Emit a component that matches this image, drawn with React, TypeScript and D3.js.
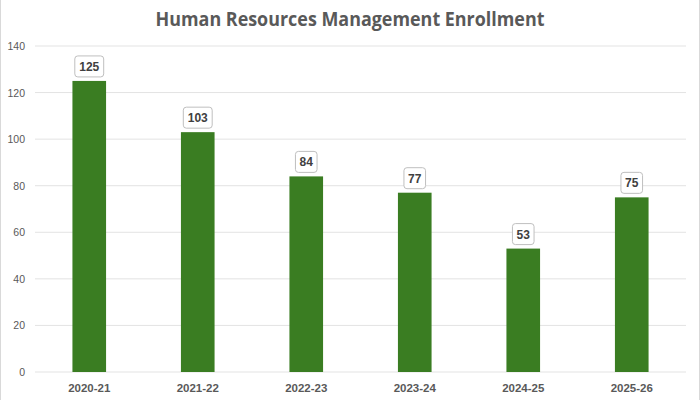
import React from "react";
import * as d3 from "d3";

const categories = ["2020-21", "2021-22", "2022-23", "2023-24", "2024-25", "2025-26"];
const enrollment = [125, 103, 84, 77, 53, 75];
const yTicks = [0, 20, 40, 60, 80, 100, 120, 140];
const title = "Human Resources Management Enrollment";

export default function App() {
  const W = 700, H = 400;
  const left = 35, right = 686, top = 46, bottom = 372;
  const x = d3.scaleBand<string>().domain(categories).range([left, right]).paddingInner(0.69).paddingOuter(0.345);
  const y = d3.scaleLinear().domain([0, 140]).range([bottom, top]);
  const font = "'Liberation Sans', Arial, sans-serif";
  const gray = "#595959";
  return (
    <div style={{ position: "absolute", left: 0, top: 0 }}>
      <svg width={W} height={H} style={{ display: "block" }}>
        <rect x={0.5} y={-1} width={W - 1} height={H + 2} fill="#ffffff" stroke="#d9d9d9" />
        <text x={350} y={26} textAnchor="middle" fontFamily="'Open Sans', sans-serif" fontWeight={700} fontSize={20} fill={gray} textLength={389} lengthAdjust="spacingAndGlyphs">{title}</text>
        {yTicks.map((t) => (
          <g key={t}>
            <line x1={left} x2={right} y1={y(t)} y2={y(t)} stroke="#e3e3e3" strokeWidth={1} />
            <text x={25} y={y(t) + 4} textAnchor="end" fontFamily={font} fontSize={10.5} fill={gray}>{t}</text>
          </g>
        ))}
        {categories.map((c, i) => {
          const v = enrollment[i];
          const bx = x(c)!;
          const bw = x.bandwidth();
          const cx = bx + bw / 2;
          const label = String(v);
          const boxW = label.length * 7.3 + 7;
          const boxH = 21;
          const boxBottom = y(v) - 4;
          return (
            <g key={c}>
              <rect x={bx} y={y(v)} width={bw} height={bottom - y(v)} fill="#3a7d22" />
              <rect x={cx - boxW / 2} y={boxBottom - boxH} width={boxW} height={boxH} rx={3} ry={3} fill="#ffffff" stroke="#bfbfbf" strokeWidth={1} />
              <text x={cx} y={boxBottom - 6} textAnchor="middle" fontFamily={font} fontWeight={700} fontSize={12} fill="#404040">{label}</text>
              <text x={cx} y={392} textAnchor="middle" fontFamily={font} fontWeight={700} fontSize={11.5} fill={gray}>{c}</text>
            </g>
          );
        })}
      </svg>
    </div>
  );
}
